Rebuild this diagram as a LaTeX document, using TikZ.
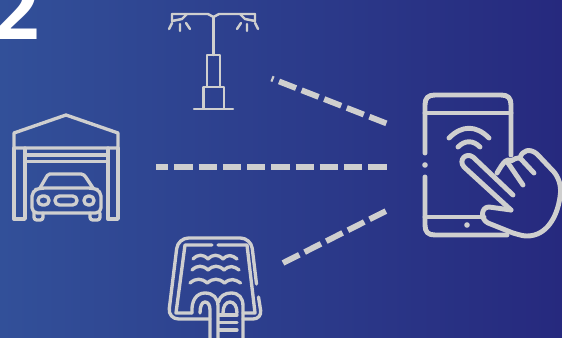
\documentclass[tikz,border=0pt]{standalone}
\usepackage{fontspec}
\setsansfont{Open Sans}
\usepackage{tikz}
\usetikzlibrary{arrows.meta,positioning,calc}
\usepackage{xcolor}
\definecolor{bgleft}{RGB}{50,80,153}
\definecolor{bgright}{RGB}{38,41,126}
\definecolor{icongrey}{RGB}{207,207,207}
\tikzset{
  iconthin/.style={draw=icongrey, line width=1.4pt, line join=round, line cap=round},
  iconmid/.style={draw=icongrey, line width=1.9pt, line join=round, line cap=round},
  iconfat/.style={draw=icongrey, line width=2.8pt, line join=round, line cap=round},
  linkdash/.style={draw=icongrey, line width=3.3pt, dash pattern=on 10.4pt off 3.4pt},
  bignum/.style={font=\sffamily\bfseries\fontsize{47}{47}\selectfont, text=white, inner sep=0pt, anchor=base},
}
\begin{document}
\begin{tikzpicture}[x=0.02cm, y=-0.02cm]
  \useasboundingbox (0,0) rectangle (562,338);
  \shade[left color=bgleft, right color=bgright] (0,0) rectangle (562,338);

  \node[bignum] (num) at (16,39) {2};

  % lamp
  \draw[iconthin] (213.5,17) -- (213.5,55);
  \draw[iconthin] (172,14) -- (208,14) -- (213.5,17) -- (219,14) -- (255,14);
  \draw[iconthin] (172,14) -- (172,21) -- (182,19) -- (187,14);
  \draw[iconthin] (255,14) -- (255,21) -- (245,19) -- (240,14);
  \draw[iconthin] (169,29) -- (172,23) (180,31) -- (180,24) (190,29) -- (186,23);
  \draw[iconthin] (258,29) -- (255,23) (247,31) -- (247,24) (237,29) -- (241,23);
  \draw[iconthin] (207,87) -- (207,55) -- (220,55) -- (220,87);
  \draw[iconthin] (203.5,108) -- (203.5,87) -- (224,87) -- (224,108);
  \draw[iconthin] (194,109) -- (233,109);

  % garage
  \draw[iconmid] (14,148) -- (14,133) -- (66,115) -- (118,133) -- (118,148) -- cycle;
  \draw[iconmid] (14,148) -- (14,219) -- (25,219) -- (25,148);
  \draw[iconmid] (118,148) -- (118,219) -- (108,219) -- (108,148);
  \draw[iconmid] (25,155) -- (108,155) (25,161.5) -- (108,161.5);
  \draw[iconmid] (40,188) -- (47,176) [rounded corners=1pt] -- (48,174) -- (83,174) -- (85,176) -- (93,188);
  \draw[iconmid, rounded corners=3pt] (32,213) -- (32,191) -- (40,188) -- (93,188) -- (101,191) -- (101,213) -- cycle;
  \draw[iconmid, rounded corners=1.5pt] (34,213) -- (34,220) -- (43,220) -- (43,213);
  \draw[iconmid, rounded corners=1.5pt] (90,213) -- (90,220) -- (100,220) -- (100,213);
  \draw[iconmid, rounded corners=2.5pt] (38,196) rectangle (49,205);
  \draw[iconmid, rounded corners=2.5pt] (84,196) rectangle (94,205);
  \draw[iconmid, rounded corners=2.5pt] (55,196) rectangle (77,205);

  % pool
  \draw[iconmid, rounded corners=6pt] (256.5,284) -- (251,238) -- (178,238) -- (168,319) -- (210,319);
  \draw[iconmid, rounded corners=5pt] (258.5,297) -- (262,319) -- (243,319);
  \draw[iconmid] (212,245) -- (185,245) -- (176,313) -- (192,313);
  \draw[iconmid] (218,245) -- (247,245) -- (255,313) -- (243,313);
  \foreach \wx/\wy/\wk in {193/259/1, 192/270/1.07, 190/283/1.15} {
    \draw[iconmid, shift={(\wx,\wy)}, xscale=\wk] (0,0) .. controls (5,-5) and (10,-5) .. (15,0)
      .. controls (20,-5) and (25,-5) .. (30,0) .. controls (35,-5) and (39,-4) .. (44,0);
  }
  \draw[iconmid] (192,313) .. controls (191,300) and (197,293) .. (205,293) .. controls (213,293) and (218,298) .. (218,306) -- (218,338);
  \draw[iconmid] (200,313) .. controls (200,306) and (202,302) .. (205,302) .. controls (208,302) and (210,305) .. (210,310) -- (210,338);
  \draw[iconmid] (218.5,302) .. controls (220,296) and (225,293) .. (231,293) .. controls (239,293) and (243,298) .. (243,306) -- (243,338);
  \draw[iconmid] (223,313) .. controls (223,306) and (226,302) .. (230,302) .. controls (234,302) and (237,306) .. (237,313);
  \draw[iconmid] (219,315) -- (237,315) (219,322.5) -- (237,322.5) (219,330) -- (237,330);

  % phone
  \draw[iconfat] (425,153) -- (425,105) .. controls (425,98) and (428,95) .. (435,95) -- (501,95) .. controls (508,95) and (511,98) .. (511,105) -- (511,155);
  \draw[iconfat] (425,177) -- (425,225) .. controls (425,232) and (428,235) .. (435,235) -- (507,235);
  \draw[iconfat] (425,113) -- (511,113);
  \draw[iconfat] (425,217) -- (484,217);
  \fill[icongrey] (425,165) circle (2.8);
  \fill[icongrey] (467,225) circle (2.8);
  \draw[iconfat] (449,138) .. controls (462,125) and (476,125) .. (489,138);
  \draw[iconfat] (458,147) .. controls (465,140) and (473,140) .. (480,147);

  % hand
  \draw[iconfat] (511,210) -- (489,207) .. controls (481,207) and (480,219) .. (488,223) -- (513,233)
    .. controls (520,235) and (523,236) .. (527,236) .. controls (546,236) and (557,218) .. (560,197)
    .. controls (562,185) and (558,177) .. (554,172)
    -- (537,154) .. controls (530,148) and (522,150) .. (520,158) .. controls (516,158) and (514,159) .. (511,161)
    .. controls (507,158) and (504,161) .. (497,173);
  \draw[iconfat] (511,210) -- (464,167) .. controls (458,160) and (466,152) .. (473,157) -- (513,195);
  \draw[iconfat] (508,163) -- (523,185);
  \draw[iconfat] (520,158) -- (534,173);

  \coordinate (lampend) at (271.5,78.5);
  \coordinate (garageend) at (156,167);
  \coordinate (poolend) at (283,263);
  \coordinate (phonetop) at (388,124);
  \coordinate (phonemid) at (388,167);
  \coordinate (phonelow) at (388,210);

  \draw[linkdash, dash phase=9.2pt, line width=3.3pt] (lampend) -- (phonetop);
  \draw[linkdash, dash phase=3.4pt] (garageend) -- (phonemid);
  \draw[linkdash] (poolend) -- (phonelow);
\end{tikzpicture}
\end{document}
